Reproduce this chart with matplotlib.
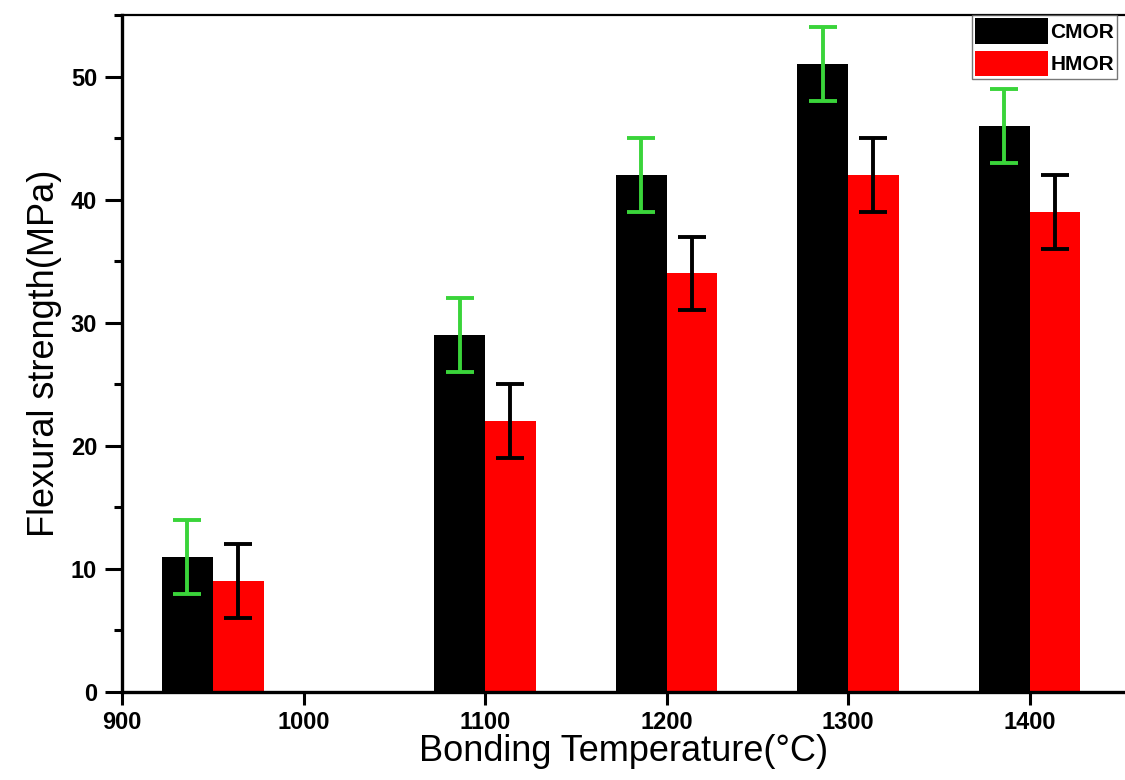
import numpy as np
import matplotlib
matplotlib.use("Agg")
import matplotlib.pyplot as plt
from matplotlib.ticker import MultipleLocator

# -------------------- Datos --------------------
temperaturas = [950, 1100, 1200, 1300, 1400]
cmor = [11, 29, 42, 51, 46]
hmor = [9, 22, 34, 42, 39]
cmor_err = [3, 3, 3, 3, 3]
hmor_err = [3, 3, 3, 3, 3]
xticks = [900, 1000, 1100, 1200, 1300, 1400]

plt.rcParams['font.family'] = ['Liberation Sans', 'DejaVu Sans']

fig = plt.figure(figsize=(11.25, 7.8), dpi=100)
ax = fig.add_axes([122 / 1125, 88 / 780, 1003 / 1125, 677 / 780])

ancho = 28
x = np.array(temperaturas)

ax.bar(x, cmor, width=-ancho, align='edge', color='black', label='CMOR', zorder=2)
ax.bar(x, hmor, width=ancho, align='edge', color='#ff0000', label='HMOR', zorder=2)

ax.errorbar(x - ancho / 2, cmor, yerr=cmor_err, fmt='none', ecolor='#3ad43a',
            elinewidth=2.8, capsize=10, capthick=2.8, zorder=3)
ax.errorbar(x + ancho / 2, hmor, yerr=hmor_err, fmt='none', ecolor='black',
            elinewidth=2.8, capsize=10, capthick=2.8, zorder=3)

ax.set_xlim(900, 900 + 1003 / 1.815)
ax.set_ylim(0, 55)
ax.set_xticks(xticks)
ax.yaxis.set_major_locator(MultipleLocator(10))
ax.yaxis.set_minor_locator(MultipleLocator(5))

for lado in ['left', 'bottom']:
    ax.spines[lado].set_linewidth(2.4)
ax.spines['top'].set_linewidth(1.6)
ax.spines['right'].set_visible(False)

ax.tick_params(axis='y', which='major', length=12, width=2.2, direction='out', pad=6)
ax.tick_params(axis='y', which='minor', length=6, width=2.2, direction='out')
ax.tick_params(axis='x', which='major', length=9, width=2.2, direction='out', pad=5)
ax.tick_params(top=False, right=False)

for lbl in ax.get_xticklabels() + ax.get_yticklabels():
    lbl.set_fontsize(17)
    lbl.set_fontweight('bold')

ax.set_xlabel('Bonding Temperature(°C)', fontsize=26, labelpad=0)
ax.set_ylabel('Flexural strength(MPa)', fontsize=26, labelpad=6)

leg = ax.legend(loc='upper left', bbox_to_anchor=(972 / 1125, 1 - 15 / 780),
                bbox_transform=fig.transFigure, prop={'weight': 'bold', 'size': 15},
                handlelength=3.5, handleheight=1.5, handletextpad=0.1,
                borderpad=0.15, labelspacing=0.35, borderaxespad=0,
                frameon=True, fancybox=False)
leg.get_frame().set_edgecolor('#555555')
leg.get_frame().set_linewidth(1.0)

fig.savefig('out.png', dpi=100)
